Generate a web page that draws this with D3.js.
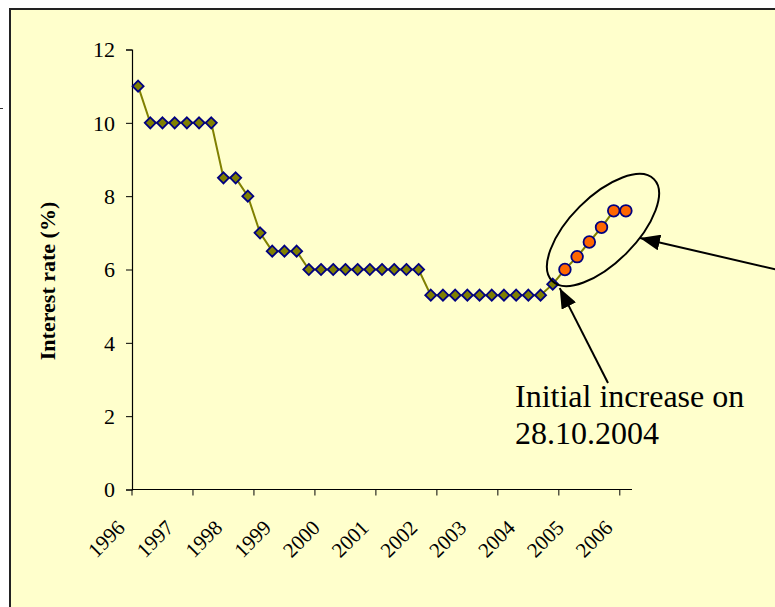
<!DOCTYPE html>
<html>
<head>
<meta charset="utf-8">
<script src="https://cdn.jsdelivr.net/npm/d3@7"></script>
<style>
  html, body { margin: 0; padding: 0; background: #ffffff; }
  svg { display: block; }
</style>
</head>
<body>
<svg id="chart" width="775" height="607"></svg>
<script>
// Quarterly policy rate, Q1 1996 – Q1 2006
const quarters = d3.range(1996, 2007).flatMap(yr => [1, 2, 3, 4].map(q => yr + "Q" + q)).slice(0, 41);
// Rate path before the tightening cycle
const rateBefore = [11,
  10, 10, 10, 10, 10, 10,
  8.5, 8.5, 8, 7,
  6.5, 6.5, 6.5,
  6, 6, 6, 6, 6, 6, 6, 6, 6, 6,
  5.3, 5.3, 5.3, 5.3, 5.3, 5.3, 5.3, 5.3, 5.3, 5.3,
  5.6];
// Rate path after the initial increase
const rateAfter = [6.0, 6.35, 6.75, 7.15, 7.6, 7.6];
const yearLabels = ["1996", "1997", "1998", "1999", "2000", "2001", "2002", "2003", "2004", "2005", "2006"];
const yTicks = [0, 2, 4, 6, 8, 10, 12];
const yTitle = "Interest rate (%)";
const noteLines = ["Initial increase on", "28.10.2004"];

const SERIF = "'Liberation Serif', Tinos, 'Times New Roman', 'DejaVu Serif', serif";

const rates = rateBefore.concat(rateAfter);
const points = quarters.map((q, i) => ({ q, i, v: rates[i], after: i >= rateBefore.length }));

const svg = d3.select("#chart");

// chart area
svg.append("rect").attr("x", 10).attr("y", 9).attr("width", 800).attr("height", 640)
  .attr("fill", "#FFFFCC").attr("stroke", "#222").attr("stroke-width", 2);

// small stray stroke at the far left edge
svg.append("line").attr("x1", 0).attr("x2", 3).attr("y1", 108.5).attr("y2", 108.5)
  .attr("stroke", "#333").attr("stroke-width", 1);

const plotLeft = 132, plotRight = 632, plotTop = 49.5, plotBottom = 489.5;
const x = d3.scaleBand().domain(quarters).range([plotLeft, plotRight]).padding(0);
const y = d3.scaleLinear().domain([0, 12]).range([plotBottom, plotTop]);
const cx = q => x(q) + x.bandwidth() / 2;

// y axis
const yAxis = d3.axisLeft(y).tickValues(yTicks).tickSize(6).tickPadding(11).tickFormat(d3.format("d"));
const gy = svg.append("g").attr("transform", `translate(${plotLeft},0)`).call(yAxis);
gy.attr("font-family", null);
gy.select(".domain").attr("stroke", "#000").attr("stroke-width", 1.2);
gy.selectAll(".tick line").attr("stroke", "#000");
gy.selectAll(".tick text").style("font-family", SERIF).style("font-size", "22px")
  .attr("fill", "#000").attr("dy", "0.34em");

// x axis: tick marks every 5 quarters, labels every 4 quarters
const gx = svg.append("g").attr("transform", `translate(0,${plotBottom})`);
gx.append("line").attr("x1", plotLeft).attr("x2", plotRight).attr("y1", 0).attr("y2", 0)
  .attr("stroke", "#000").attr("stroke-width", 1.2);
const tickQuarters = quarters.filter((q, i) => i % 5 === 0);
gx.selectAll("line.tk").data(tickQuarters).join("line").attr("class", "tk")
  .attr("x1", d => x(d)).attr("x2", d => x(d)).attr("y1", 0).attr("y2", 6)
  .attr("stroke", "#000");
const labelQuarters = quarters.filter((q, i) => i % 4 === 0);
gx.selectAll("text.yl").data(labelQuarters).join("text").attr("class", "yl")
  .attr("transform", d => `translate(${cx(d) - 12},${39.5}) rotate(-45)`)
  .attr("text-anchor", "end")
  .style("font-family", SERIF).style("font-size", "21px")
  .text((d, i) => yearLabels[i]);

// y axis title
svg.append("text")
  .attr("transform", `translate(55,281) rotate(-90)`)
  .attr("text-anchor", "middle")
  .style("font-family", SERIF).style("font-size", "22px").style("font-weight", "bold")
  .text(yTitle);

// rate line
const line = d3.line().x(d => cx(d.q)).y(d => y(d.v));
svg.append("path").datum(points).attr("d", line)
  .attr("fill", "none").attr("stroke", "#808000").attr("stroke-width", 2);

// diamond markers
const diamond = d3.symbol().type(d3.symbolDiamond2).size(78);
svg.selectAll("path.dm").data(points.filter(d => !d.after)).join("path").attr("class", "dm")
  .attr("d", diamond)
  .attr("transform", d => `translate(${cx(d.q)},${y(d.v)})`)
  .attr("fill", "#808000").attr("stroke", "#000080").attr("stroke-width", 1.8);

// circle markers after the increase
svg.selectAll("circle.ci").data(points.filter(d => d.after)).join("circle").attr("class", "ci")
  .attr("cx", d => cx(d.q)).attr("cy", d => y(d.v)).attr("r", 5.8)
  .attr("fill", "#FF6600").attr("stroke", "#000080").attr("stroke-width", 1.8);

// annotation: ellipse around the increases
svg.append("ellipse").attr("transform", "translate(603,230) rotate(-45)")
  .attr("rx", 72).attr("ry", 33)
  .attr("fill", "none").attr("stroke", "#000").attr("stroke-width", 2);

// arrowheads
const defs = svg.append("defs");
defs.append("marker").attr("id", "head").attr("viewBox", "0 0 20 16")
  .attr("refX", 20).attr("refY", 8).attr("markerWidth", 20).attr("markerHeight", 16)
  .attr("markerUnits", "userSpaceOnUse").attr("orient", "auto")
  .append("path").attr("d", "M0,0 L20,8 L0,16 Z").attr("fill", "#000");

const lastBefore = points[rateBefore.length - 1];
svg.append("line").attr("x1", 608).attr("y1", 383)
  .attr("x2", cx(lastBefore.q) + 7).attr("y2", y(lastBefore.v) + 4)
  .attr("stroke", "#000").attr("stroke-width", 2).attr("marker-end", "url(#head)");
svg.append("line").attr("x1", 800).attr("y1", 275).attr("x2", 640).attr("y2", 238)
  .attr("stroke", "#000").attr("stroke-width", 2).attr("marker-end", "url(#head)");

// note text
svg.append("text").attr("x", 515).attr("y", 407)
  .style("font-family", SERIF).style("font-size", "32px")
  .selectAll("tspan").data(noteLines).join("tspan")
  .attr("x", 515).attr("dy", (d, i) => i === 0 ? 0 : 37).text(d => d);
</script>
</body>
</html>
